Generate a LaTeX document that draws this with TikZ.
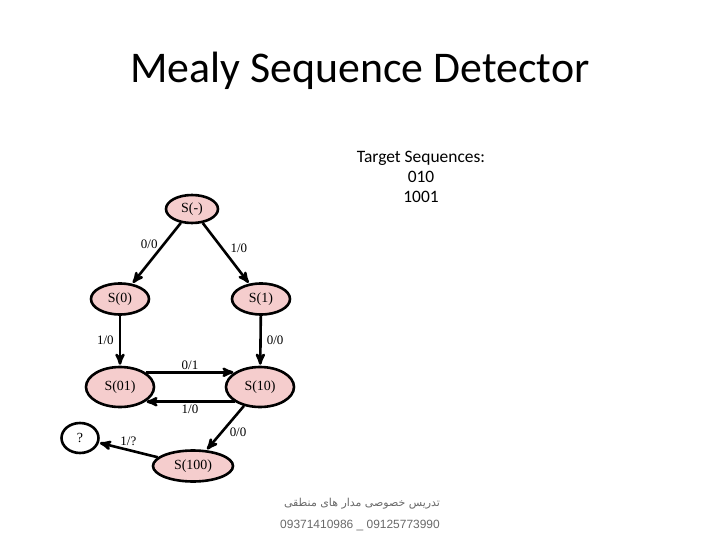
\documentclass[tikz,border=0pt]{standalone}
\usepackage{fontspec}
\setmainfont{Liberation Serif}
\newfontfamily\slidefont{Carlito}
\newfontfamily\notefont{Liberation Sans}
\newfontfamily\farsifont[Script=Arabic]{DejaVu Sans}
\TeXXeTstate=1
\usetikzlibrary{arrows, positioning, shapes.geometric}
\definecolor{statepink}{RGB}{245,205,205}
\definecolor{notegray}{RGB}{105,105,105}
\tikzset{->,>=stealth',shorten >=1pt,auto,
    state/.style={ellipse,draw,fill=statepink,inner sep=0pt,
        minimum width=58bp,minimum height=31bp,
        font=\fontsize{14}{16}\selectfont},
    wide/.style={state,minimum width=68bp,minimum height=40bp},
    open/.style={ellipse,draw,fill=white,inner sep=0pt,
        minimum width=37bp,minimum height=30bp,
        font=\fontsize{14}{16}\selectfont},
    trans/.style={font=\fontsize{13}{15}\selectfont,inner sep=1bp},
    textnode/.style={inner sep=0pt}}

\begin{document}
\begin{tikzpicture}[x=1bp,y=-1bp,line width=2.6bp]
\useasboundingbox[-] (0,0) rectangle (720,540);

\node[textnode,anchor=base,font=\slidefont\fontsize{44}{50}\selectfont] (t) at (360,83)
    {Mealy Sequence Detector};
\node[textnode,align=center,anchor=base,font=\slidefont\fontsize{17.5}{20.5}\selectfont] (s) at (421,203)
    {Target Sequences:\\010\\1001};

\node[state,minimum width=52bp,minimum height=28bp] (a) at (192,209) {S(-)};
\node[state]  (b)  at (120,299) {S(0)};
\node[state]  (c)  at (261,299) {S(1)};
\node[wide]   (d)  at (120,387) {S(01)};
\node[wide]   (e)  at (260,387) {S(10)};
\node[state,minimum width=80bp] (f) at (193,466) {S(100)};
\node[open]   (g)  at (80,438)  {?};

\path
    (a)	edge 	node	[trans,pos=0.35,left=4bp] 	{0/0}	(b)
    (a)	edge 	node	[trans,pos=0.42,right=6bp] 	{1/0}	(c)
    (b)	edge 	node	[trans,left=4bp] 	{1/0}	(d)
    (c)	edge 	node	[trans,right=4bp] 	{0/0}	(e)
    (d.30)	edge 	node	[trans,above=0bp] 	{0/1}	(e.150)
    (e.210)	edge 	node	[trans,below=1bp] 	{1/0}	(d.330)
    (e)	edge 	node	[trans,pos=0.6,right=6bp] 	{0/0}	(f)
    (f)	edge 	node	[trans,above=2bp] 	{1/?}	(g);

\node[textnode,anchor=base,text=notegray] (p) at (362,506)
    {\farsifont\fontsize{11}{13}\selectfont\beginR تدریس  خصوصی مدار های منطقی\endR};
\node[textnode,anchor=base,text=notegray] (n) at (360,528)
    {\notefont\fontsize{12}{14}\selectfont 09371410986 \_ 09125773990};
\end{tikzpicture}
\end{document}
